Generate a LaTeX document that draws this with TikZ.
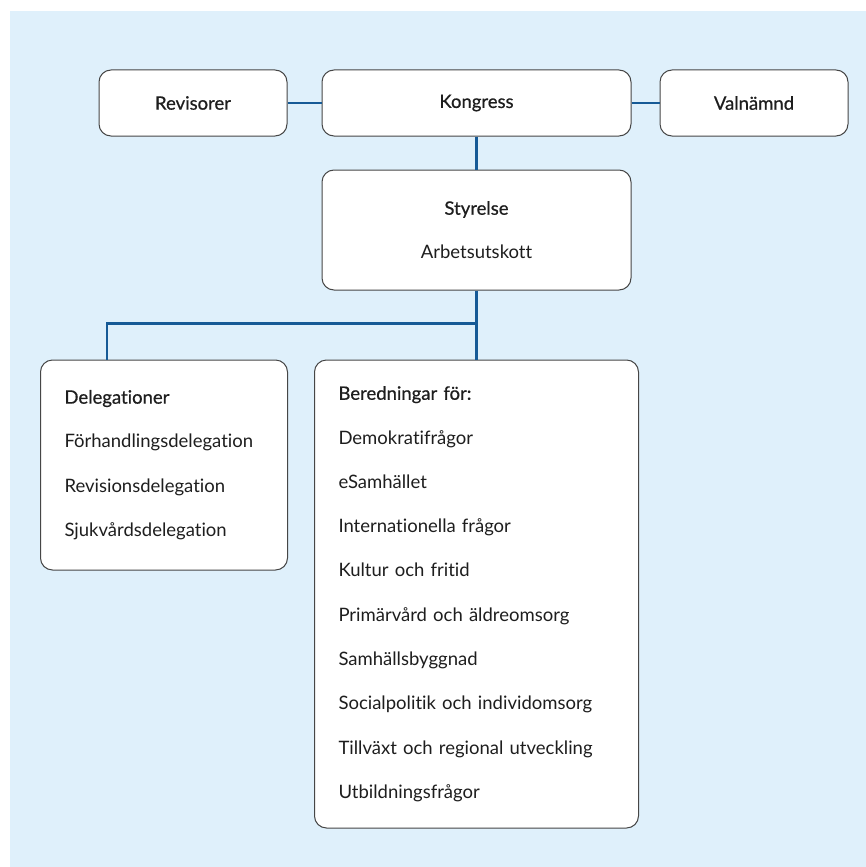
\documentclass[tikz,border=0pt]{standalone}
\usepackage{fontspec}
\setmainfont{Lato}[Ligatures=NoCommon]
\newfontfamily\medfont{Lato}[Ligatures=NoCommon, FakeBold=0.6]
\usetikzlibrary{positioning}
\definecolor{bgblue}{RGB}{223,240,251}
\definecolor{linkblue}{RGB}{22,90,150}
\definecolor{boxgray}{RGB}{70,70,70}
\definecolor{textdark}{RGB}{30,30,30}

\begin{document}
\begin{tikzpicture}[x=1pt, y=1pt,
    organ/.style={rectangle, draw=boxgray, line width=1pt, rounded corners=12pt, fill=white, text=textdark, inner sep=0pt, font=\medfont\fontsize{18.5}{22}\selectfont},
    listbox/.style={organ, align=left, inner xsep=24pt, font=\fontsize{18.5}{44.3}\selectfont},
    link/.style={draw=linkblue, line width=2.5pt}]

% background
\fill[white] (0,0) rectangle (866,-867);
\fill[bgblue] (10,-11) rectangle (866,-867);

\node[organ, minimum width=309pt, minimum height=66pt] (kon) at (476.5,-103) {Kongress};
\node[organ, minimum width=188pt, minimum height=66pt, left=34pt of kon] (rev) {Revisorer};
\node[organ, minimum width=188pt, minimum height=66pt, right=28pt of kon] (val) {Valnämnd};
\node[organ, minimum width=309pt, minimum height=120pt, below=33pt of kon, align=center, font=\fontsize{18.5}{44}\selectfont] (sty) {{\medfont Styrelse}\\Arbetsutskott};
\node[listbox, text width=276pt, minimum height=468pt, below=69pt of sty] (ber) {{\medfont Beredningar för:}\\Demokratifrågor\\eSamhället\\Internationella frågor\\Kultur och fritid\\Primärvård och äldreomsorg\\Samhällsbyggnad\\Socialpolitik och individomsorg\\Tillväxt och regional utveckling\\Utbildningsfrågor};
\node[listbox, text width=199pt, minimum height=210pt, left=26pt of ber.north west, anchor=north east] (del) {{\medfont Delegationer}\\Förhandlingsdelegation\\Revisionsdelegation\\Sjukvårdsdelegation};

\coordinate (split) at ([yshift=-33pt]sty.south);
\coordinate (deltop) at ([xshift=67pt]del.north west);

\draw[link] (rev) -- (kon);
\draw[link] (kon) -- (val);
\draw[link] (kon) -- (sty);
\draw[link] (sty) -- (ber);
\draw[link] (split) -| (deltop);
\end{tikzpicture}
\end{document}
